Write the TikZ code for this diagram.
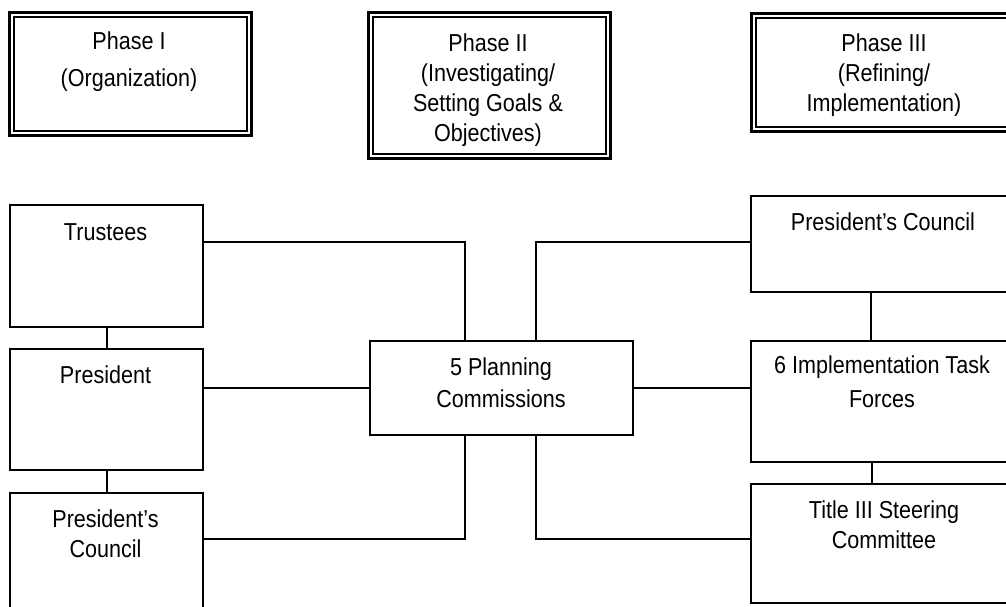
\documentclass[tikz,border=0pt]{standalone}
\usepackage{fontspec}
\setmainfont{Liberation Sans}[FakeStretch=0.88]
\begin{document}
\begin{tikzpicture}[x=1pt,y=-1pt,
  box/.style={draw, line width=2pt, rectangle, inner sep=0pt, anchor=north west},
  phasebox/.style={draw, line width=3pt, rectangle, inner sep=0pt, anchor=north west},
  conn/.style={line width=2pt},
  txt/.style={anchor=base, align=center, inner sep=0pt, font=\fontsize{24.5}{30}\selectfont}]
\clip (0,0) rectangle (1006,607);
\fill[white] (0,0) rectangle (1006,607);

% phase boxes
\node[phasebox, minimum width=242pt, minimum height=123pt] (p1) at (8,11) {};
\node[phasebox, minimum width=242pt, minimum height=146pt] (p2) at (367,11) {};
\node[phasebox, minimum width=268pt, minimum height=118pt] (p3) at (750,12) {};
\foreach \p in {p1,p2,p3}
  \draw[line width=1.6pt] ([shift={(6,6)}]\p.north west) rectangle ([shift={(-6,-6)}]\p.south east);
\node[txt] (p1t) at (129,87) {Phase I\\[7pt](Organization)};
\node[txt] (p2t) at (488,142) {Phase II\\(Investigating/\\Setting Goals \&\\Objectives)};
\node[txt] (p3t) at (884,112) {Phase III\\(Refining/\\Implementation)};

% left column
\node[box, minimum width=193pt, minimum height=122pt] (trustees) at (9,204) {};
\node[box, minimum width=193pt, minimum height=121pt] (president) at (9,348) {};
\node[box, minimum width=193pt, minimum height=130pt] (lpc) at (9,492) {};
\node[txt] (trustees-t) at (105.5,240) {Trustees};
\node[txt] (president-t) at (105.5,383) {President};
\node[txt] (lpc-t) at (105.5,557) {President's\\Council};

% centre
\node[box, minimum width=263pt, minimum height=94pt] (plan) at (369,340) {};
\node[txt] (plan-t) at (501,407) {5 Planning\\[2pt]Commissions};

% right column
\node[box, minimum width=266pt, minimum height=96pt] (rpc) at (750,195) {};
\node[box, minimum width=266pt, minimum height=121pt] (itf) at (750,340) {};
\node[box, minimum width=266pt, minimum height=119pt] (steer) at (750,483) {};
\node[txt] (rpc-t) at (883,230) {President's Council};
\node[txt] (itf-t) at (882,407) {6 Implementation Task\\[4pt]Forces};
\node[txt] (steer-t) at (884,548) {Title III Steering\\Committee};

% connectors
\coordinate (t1) at (465,242);
\coordinate (c1) at (465,539);
\coordinate (t2) at (536,242);
\coordinate (c2) at (536,539);
\coordinate (v1) at (871,0);
\coordinate (v2) at (872,0);
\draw[conn] (trustees.south) -- (president.north);
\draw[conn] (president.south) -- (lpc.north);
\draw[conn] (trustees.east |- t1) -- (t1) -- (plan.north -| t1);
\draw[conn] (president.east |- plan.west) -- (plan.west);
\draw[conn] (lpc.east |- c1) -- (c1) -- (plan.south -| c1);
\draw[conn] (plan.north -| t2) -- (t2) -- (rpc.west |- t2);
\draw[conn] (plan.east) -- (itf.west |- plan.east);
\draw[conn] (plan.south -| c2) -- (c2) -- (steer.west |- c2);
\draw[conn] (rpc.south -| v1) -- (itf.north -| v1);
\draw[conn] (itf.south -| v2) -- (steer.north -| v2);
\end{tikzpicture}
\end{document}
